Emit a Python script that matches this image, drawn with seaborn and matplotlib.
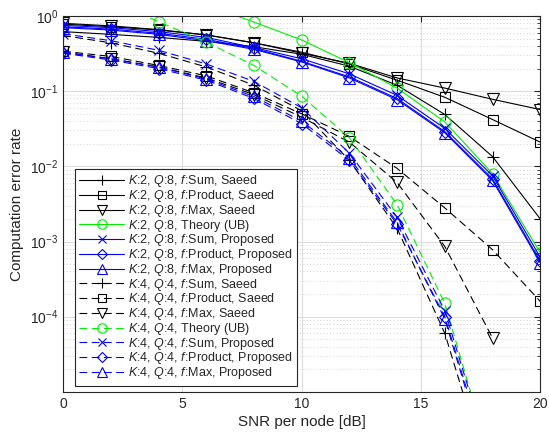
import numpy as np
import pandas as pd
import matplotlib
matplotlib.use("Agg")
import matplotlib.pyplot as plt
import seaborn as sns
from matplotlib.ticker import LogLocator, NullFormatter

snr = [0, 2, 4, 6, 8, 10, 12, 14, 16, 18, 20]

nan = np.nan
# K:2, Q:8 (solid)
k2_sum_saeed = [0.62, 0.57, 0.52, 0.46, 0.39, 0.31, 0.215, 0.12, 0.049, 0.0135, 0.002]
k2_prod_saeed = [0.78, 0.72, 0.65, 0.56, 0.44, 0.33, 0.23, 0.14, 0.083, 0.042, 0.021]
k2_max_saeed = [0.80, 0.74, 0.66, 0.56, 0.44, 0.32, 0.235, 0.15, 0.11, 0.078, 0.057]
k2_theory = [5.0, 3.3, 2.1, 1.4, 0.83, 0.48, 0.24, 0.11, 0.039, 0.008, 0.00071]
k2_sum_prop = [0.75, 0.70, 0.62, 0.52, 0.38, 0.27, 0.17, 0.088, 0.032, 0.0075, 0.00062]
k2_prod_prop = [0.72, 0.67, 0.59, 0.49, 0.37, 0.25, 0.155, 0.080, 0.029, 0.0068, 0.00055]
k2_max_prop = [0.70, 0.65, 0.57, 0.47, 0.36, 0.245, 0.15, 0.077, 0.028, 0.0065, 0.00052]
# K:4, Q:4 (dashed)
k4_sum_saeed = [0.55, 0.44, 0.32, 0.21, 0.12, 0.055, 0.012, 0.0015, 6.0e-5, 5e-7, nan]
k4_prod_saeed = [0.34, 0.29, 0.22, 0.16, 0.095, 0.05, 0.025, 0.0094, 0.0028, 7.8e-4, 1.6e-4]
k4_max_saeed = [0.33, 0.27, 0.21, 0.15, 0.09, 0.045, 0.021, 0.0061, 8.6e-4, 5.2e-5, nan]
k4_theory = [2.5, 1.6, 0.84, 0.45, 0.22, 0.086, 0.024, 0.0031, 1.5e-4, 1e-6, nan]
k4_sum_prop = [0.58, 0.47, 0.35, 0.23, 0.135, 0.06, 0.015, 0.0021, 1.2e-4, 1e-6, nan]
k4_prod_prop = [0.32, 0.26, 0.20, 0.14, 0.08, 0.037, 0.012, 0.0017, 1.0e-4, 8e-7, nan]
k4_max_prop = [0.33, 0.27, 0.21, 0.145, 0.085, 0.04, 0.013, 0.0018, 9.3e-5, 7e-7, nan]

labels = [
    "$K$:2, $Q$:8, $f$:Sum, Saeed",
    "$K$:2, $Q$:8, $f$:Product, Saeed",
    "$K$:2, $Q$:8, $f$:Max, Saeed",
    "$K$:2, $Q$:8, Theory (UB)",
    "$K$:2, $Q$:8, $f$:Sum, Proposed",
    "$K$:2, $Q$:8, $f$:Product, Proposed",
    "$K$:2, $Q$:8, $f$:Max, Proposed",
    "$K$:4, $Q$:4, $f$:Sum, Saeed",
    "$K$:4, $Q$:4, $f$:Product, Saeed",
    "$K$:4, $Q$:4, $f$:Max, Saeed",
    "$K$:4, $Q$:4, Theory (UB)",
    "$K$:4, $Q$:4, $f$:Sum, Proposed",
    "$K$:4, $Q$:4, $f$:Product, Proposed",
    "$K$:4, $Q$:4, $f$:Max, Proposed",
]
series = [k2_sum_saeed, k2_prod_saeed, k2_max_saeed, k2_theory, k2_sum_prop, k2_prod_prop, k2_max_prop,
          k4_sum_saeed, k4_prod_saeed, k4_max_saeed, k4_theory, k4_sum_prop, k4_prod_prop, k4_max_prop]

BLACK, GREEN, BLUE = "black", "#00ee00", "blue"
colors = [BLACK, BLACK, BLACK, GREEN, BLUE, BLUE, BLUE] * 2
markers = ["+", "s", "v", "o", "x", "D", "^"] * 2
msizes = [9, 6.5, 8, 8, 6.5, 6, 8] * 2
dash = (0, (7, 4))
styles = ["-"] * 7 + [dash] * 7

sns.set_style("white")
plt.rcParams["font.family"] = ["Liberation Sans", "DejaVu Sans"]
plt.rcParams["mathtext.fontset"] = "custom"
plt.rcParams["mathtext.it"] = "Liberation Sans:italic"
plt.rcParams["mathtext.rm"] = "Liberation Sans"

fig = plt.figure(figsize=(5.49, 4.33), dpi=100)
ax = fig.add_axes([0.115, 0.095, 0.869, 0.868])

for lab, vals, c, m, ms, ls in zip(labels, series, colors, markers, msizes, styles):
    df = pd.DataFrame({"snr": snr, "err": vals}).dropna()
    sns.lineplot(data=df, x="snr", y="err", ax=ax, color=c, marker=m, markersize=ms,
                 markerfacecolor="none", markeredgecolor=c, markeredgewidth=0.8,
                 linewidth=0.8, linestyle=ls, label=lab, estimator=None, sort=False)

ax.set_yscale("log")
ax.set_xlim(0, 20)
ax.set_ylim(1e-5, 1)
ax.set_xticks([0, 5, 10, 15, 20])
ax.yaxis.set_major_locator(LogLocator(base=10, numticks=10))
ax.yaxis.set_minor_locator(LogLocator(base=10, subs=np.arange(2, 10), numticks=20))
ax.yaxis.set_minor_formatter(NullFormatter())
ax.set_yticks([1e-4, 1e-3, 1e-2, 1e-1, 1])
ax.set_ylim(1e-5, 1)

ax.grid(True, which="major", color="#dddddd", linewidth=0.8, linestyle="-")
ax.grid(True, which="minor", axis="y", color="#c4c4c4", linewidth=0.6, linestyle=(0, (1, 3)))
ax.set_axisbelow(True)

ax.tick_params(which="both", direction="in", top=True, right=True, labelsize=10, colors="#262626")
ax.tick_params(which="major", length=4)
ax.tick_params(which="minor", length=2)
for sp in ax.spines.values():
    sp.set_color("#262626")
    sp.set_linewidth(0.8)

ax.set_xlabel("SNR per node [dB]", fontsize=11, color="#262626", labelpad=3)
ax.set_ylabel("Computation error rate", fontsize=11, color="#262626", labelpad=4)

leg = ax.legend(loc="lower left", bbox_to_anchor=(0.012, 0.0), fontsize=9, handlelength=3.6,
                labelspacing=-0.1, borderpad=0.35, handletextpad=0.3, frameon=True, fancybox=False,
                framealpha=1, markerscale=0.85)
leg.get_frame().set_edgecolor("#262626")
leg.get_frame().set_linewidth(0.8)

fig.savefig("out.png", dpi=100)
